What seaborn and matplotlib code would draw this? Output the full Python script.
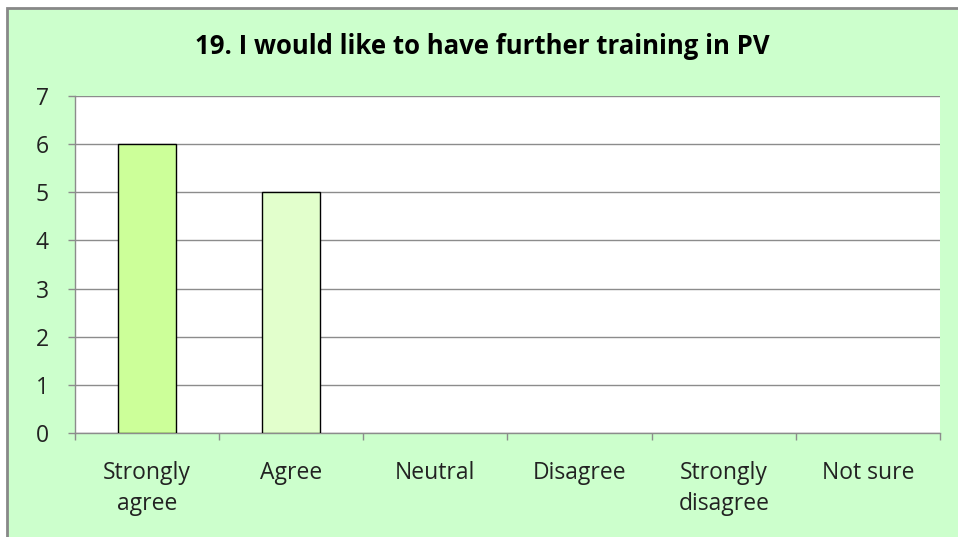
import numpy as np
import pandas as pd
import matplotlib
matplotlib.use('Agg')
import matplotlib.pyplot as plt
import seaborn as sns
from matplotlib.patches import Rectangle

categories = ['Strongly\nagree', 'Agree', 'Neutral', 'Disagree', 'Strongly\ndisagree', 'Not sure']
counts = [6, 5, 0, 0, 0, 0]
bar_colors = ['#CCFF99', '#E2FFCC', '#E2FFCC', '#E2FFCC', '#E2FFCC', '#E2FFCC']
y_ticks = [0, 1, 2, 3, 4, 5, 6, 7]
title = '19. I would like to have further training in PV'

sns.set_theme(style='white')
plt.rcParams['font.family'] = ['Open Sans', 'DejaVu Sans']

df = pd.DataFrame({'answer': categories, 'n': counts})

fig = plt.figure(figsize=(9.58, 5.37), dpi=100, facecolor='white')
# green chart area with grey frame on top / left
fig.patches.append(Rectangle((7 / 958, -0.1), 1.2, 1 - 8 / 537 + 0.1, transform=fig.transFigure,
                             facecolor='#CCFFCC', edgecolor='#888888', linewidth=2, zorder=-5))

ax = fig.add_axes([75 / 958, 1 - 433 / 537, 865 / 958, 337 / 537])
sns.barplot(data=df, x='answer', y='n', hue='answer', palette=bar_colors, legend=False,
            width=0.4, saturation=1, edgecolor='black', linewidth=1, ax=ax, zorder=3)
for p in ax.patches:
    if p.get_height() == 0:
        p.set_linewidth(0)

ax.set_facecolor('white')
ax.set_ylim(0, 7)
ax.set_xlim(-0.5, 5.5)
ax.set_yticks(y_ticks)
ax.yaxis.grid(True, color='#8c8c8c', linewidth=1)
ax.set_axisbelow(True)
for s in ['top', 'right']:
    ax.spines[s].set_visible(False)
for s in ['left', 'bottom']:
    ax.spines[s].set_color('#8c8c8c')
    ax.spines[s].set_linewidth(1)

ax.set_xticks(np.arange(-0.5, 6, 1), minor=True)
ax.tick_params(axis='x', which='major', length=0, pad=20, labelsize=16.5, labelcolor='#222222')
ax.tick_params(axis='x', which='minor', bottom=True, length=5, color='#8c8c8c', width=1)
ax.tick_params(axis='y', left=True, length=5, color='#8c8c8c', width=1, pad=14,
               labelsize=16.5, labelcolor='#222222')
for lbl in ax.get_xticklabels():
    lbl.set_linespacing(1.4)
ax.set_xlabel('')
ax.set_ylabel('')

fig.text(482 / 958, 1 - 47 / 537, title, ha='center', va='center', fontsize=18.5,
         fontweight='bold', color='black')

fig.savefig('out.png', dpi=100, facecolor='white')
